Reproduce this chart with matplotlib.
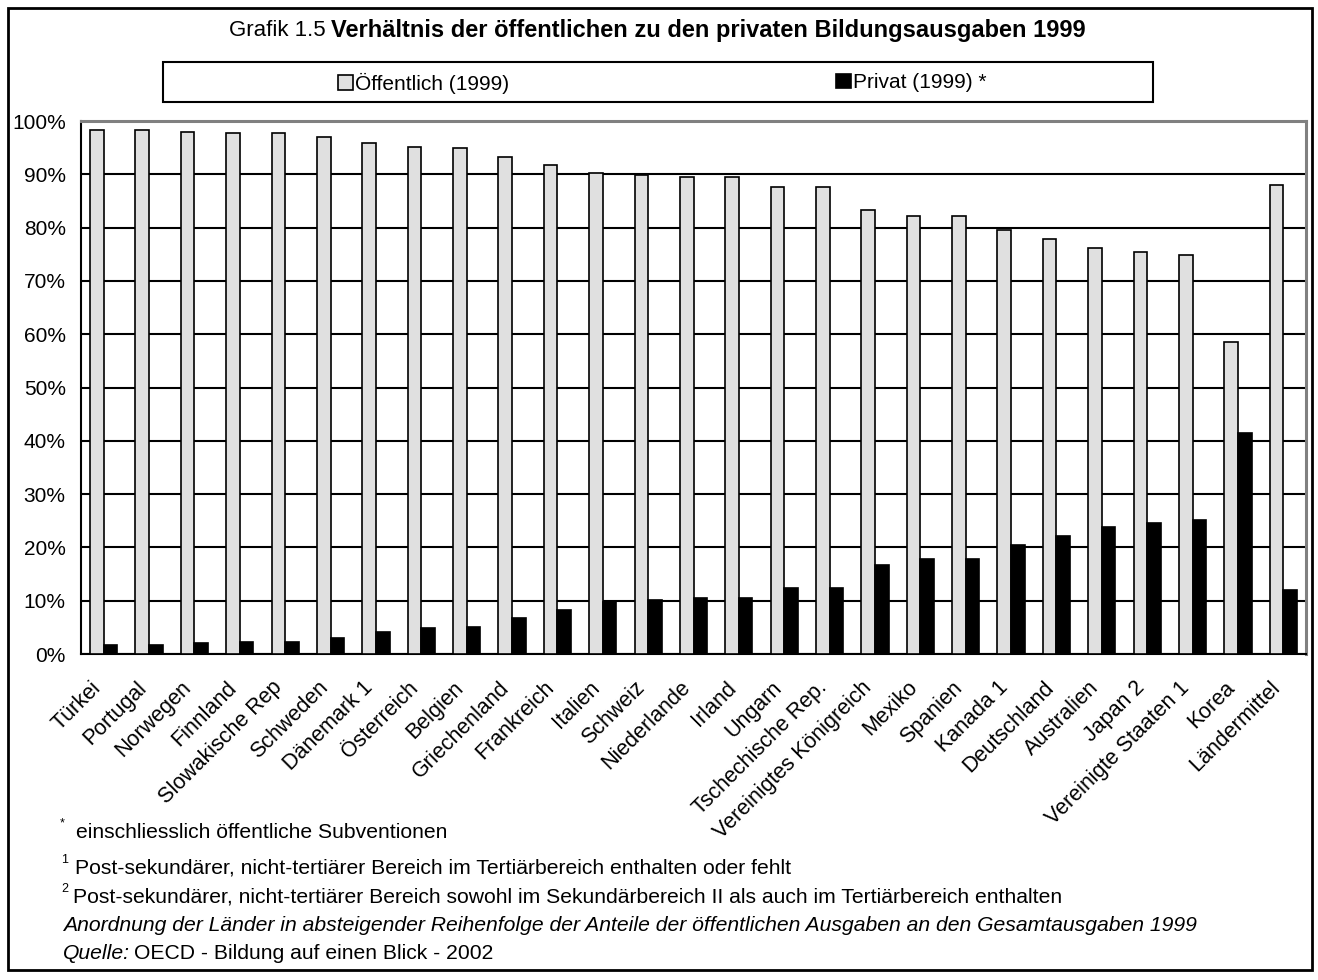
import matplotlib
matplotlib.use("Agg")
import matplotlib.pyplot as plt
from matplotlib.patches import Rectangle
from matplotlib.ticker import FixedLocator
from matplotlib.transforms import ScaledTranslation

countries = ["Türkei", "Portugal", "Norwegen", "Finnland", "Slowakische Rep", "Schweden",
             "Dänemark 1", "Österreich", "Belgien", "Griechenland", "Frankreich", "Italien",
             "Schweiz", "Niederlande", "Irland", "Ungarn", "Tschechische Rep.",
             "Vereinigtes Königreich", "Mexiko", "Spanien", "Kanada 1", "Deutschland",
             "Australien", "Japan 2", "Vereinigte Staaten 1", "Korea", "Ländermittel"]

oeffentlich = [98.4, 98.4, 98.0, 97.7, 97.7, 97.0, 95.8, 95.2, 95.0, 93.2, 91.7, 90.2,
               89.9, 89.5, 89.5, 87.6, 87.6, 83.3, 82.2, 82.2, 79.6, 77.8, 76.2, 75.5,
               74.8, 58.5, 88.0]
privat = [1.6, 1.6, 2.0, 2.3, 2.3, 3.0, 4.2, 4.8, 5.0, 6.8, 8.3, 9.8,
          10.1, 10.5, 10.5, 12.4, 12.4, 16.7, 17.8, 17.8, 20.4, 22.2, 23.8, 24.5,
          25.2, 41.5, 12.1]
yticks = [0, 10, 20, 30, 40, 50, 60, 70, 80, 90, 100]
ytick_labels = [f"{t}%" for t in yticks]

plt.rcParams['font.family'] = ['Liberation Sans', 'DejaVu Sans']

W, H = 1318, 980
fig = plt.figure(figsize=(W / 100, H / 100), dpi=100)
ax = fig.add_axes([81 / W, 1 - 654 / H, (1306 - 81) / W, (654 - 121) / H])

n = len(countries)
x = list(range(n))
bw = 0.3
ax.bar([i - bw / 2 for i in x], oeffentlich, width=bw, color="#e0e0e0",
       edgecolor="black", linewidth=1.2, zorder=3, label="Öffentlich (1999)")
ax.bar([i + bw / 2 for i in x], privat, width=bw, color="black",
       edgecolor="black", linewidth=1.2, zorder=3, label="Privat (1999) *")

ax.set_xlim(-0.5, n - 0.5)
ax.set_ylim(0, 100)
ax.yaxis.set_major_locator(FixedLocator(yticks))
ax.set_yticklabels(ytick_labels, fontsize=15)
ax.set_xticks(x)
ax.set_xticklabels(countries, rotation=45, ha="right", va="center",
                   rotation_mode="anchor", fontsize=15.5)
ax.tick_params(axis="both", length=0)
ax.tick_params(axis="y", pad=11)
ax.tick_params(axis="x", pad=17)
offset = ScaledTranslation(-6 / 100, -7 / 100, fig.dpi_scale_trans)
for lab in ax.get_xticklabels():
    lab.set_transform(lab.get_transform() + offset)
ax.grid(axis="y", color="black", linewidth=1.5, zorder=1)
ax.set_axisbelow(True)
for s in ["left", "bottom"]:
    ax.spines[s].set_color("black")
    ax.spines[s].set_linewidth(1.5)
for s in ["top", "right"]:
    ax.spines[s].set_color("#808080")
    ax.spines[s].set_linewidth(2.2)

# outer border
fig.patches.append(Rectangle((8 / W, 1 - 970 / H), (1312 - 8) / W, (970 - 8) / H,
                             transform=fig.transFigure, fill=False,
                             edgecolor="black", linewidth=2))
# legend box
fig.patches.append(Rectangle((163 / W, 1 - 102 / H), (1153 - 163) / W, (102 - 62) / H,
                             transform=fig.transFigure, fill=False,
                             edgecolor="black", linewidth=1.5))
handles, labels = ax.get_legend_handles_labels()
fig.legend(handles[:1], labels[:1], loc="center left",
           bbox_to_anchor=(338 / W, 1 - 83 / H), frameon=False, fontsize=15,
           handlelength=0.7, handleheight=0.7, handletextpad=0.1, borderpad=0,
           borderaxespad=0)
fig.legend(handles[1:], labels[1:], loc="center left",
           bbox_to_anchor=(836 / W, 1 - 83 / H), frameon=False, fontsize=15,
           handlelength=0.7, handleheight=0.7, handletextpad=0.1, borderpad=0,
           borderaxespad=0)

# title
fig.text(326 / W, 1 - 31 / H, "Grafik 1.5", ha="right", va="center", fontsize=16)
fig.text(331 / W, 1 - 31 / H,
         "Verhältnis der öffentlichen zu den privaten Bildungsausgaben 1999",
         ha="left", va="center", fontsize=17, fontweight="bold")

# footnotes
fs = 15.2
fig.text(60 / W, 1 - 823 / H, "*", ha="left", va="center", fontsize=9)
fig.text(76 / W, 1 - 838 / H, "einschliesslich öffentliche Subventionen",
         ha="left", va="baseline", fontsize=fs)
fig.text(61 / W, 1 - 860 / H, "1", ha="left", va="center", fontsize=9)
fig.text(75 / W, 1 - 873 / H,
         "Post-sekundärer, nicht-tertiärer Bereich im Tertiärbereich enthalten oder fehlt",
         ha="left", va="baseline", fontsize=fs)
fig.text(61 / W, 1 - 889 / H, "2", ha="left", va="center", fontsize=9)
fig.text(73 / W, 1 - 902 / H,
         "Post-sekundärer, nicht-tertiärer Bereich sowohl im Sekundärbereich II als auch im Tertiärbereich enthalten",
         ha="left", va="baseline", fontsize=fs)
fig.text(63 / W, 1 - 931 / H,
         "Anordnung der Länder in absteigender Reihenfolge der Anteile der öffentlichen Ausgaben an den Gesamtausgaben 1999",
         ha="left", va="baseline", fontsize=fs, style="italic")
q = fig.text(63 / W, 1 - 959 / H, "Quelle:", ha="left", va="baseline",
             fontsize=fs, style="italic")
fig.canvas.draw()
bb = q.get_window_extent()
fig.text((bb.x1 + 4) / W, 1 - 959 / H, "OECD - Bildung auf einen Blick - 2002",
         ha="left", va="baseline", fontsize=fs)

fig.savefig("out.png", dpi=100)
